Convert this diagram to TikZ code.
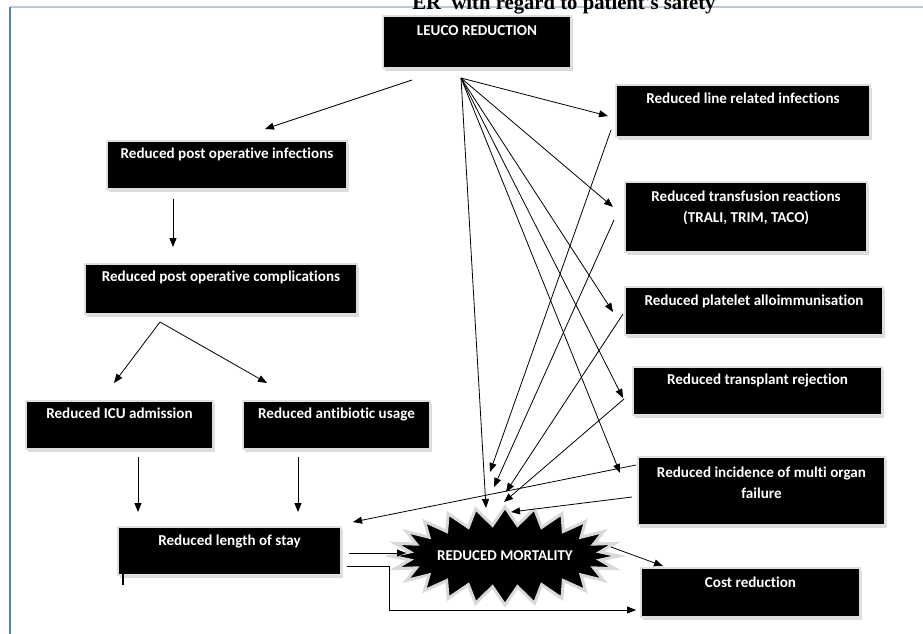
\documentclass[tikz,border=0pt]{standalone}
\usepackage{fontspec}
\setmainfont{Carlito}[Ligatures=NoCommon]
\newfontfamily\titlefont{Liberation Serif}
\usetikzlibrary{shapes.symbols,shadows,arrows.meta}
\definecolor{leftblue}{RGB}{88,124,176}
\definecolor{topgrey}{RGB}{185,200,215}
\begin{document}
\begin{tikzpicture}[x=1pt,y=-1pt,
  box/.style={fill=black, draw=gray!25, line width=2.5pt,
    drop shadow={shadow xshift=1.5pt,shadow yshift=-2.5pt,fill=gray!55},
    inner sep=0pt},
  btext/.style={text=white, font=\fontsize{15.1}{21}\selectfont\bfseries,
    align=center, text height=10pt, text depth=3pt, inner sep=0pt},
  btexttwo/.style={text=white, font=\fontsize{15.1}{21}\selectfont\bfseries,
    align=center, inner sep=0pt},
  arr/.style={-{Triangle[length=9pt,width=7pt]}, line width=0.8pt},
  ln/.style={line width=0.8pt}]
\useasboundingbox (0,0) rectangle (923,634);
\clip (0,0) rectangle (923,634);

% frame lines
\draw[topgrey, line width=1.2pt] (10,7) -- (923,7);
\draw[leftblue, line width=2.5pt] (10,7) -- (10,634);

% title (cut off at top)
\node[font=\titlefont\fontsize{20.7}{22}\selectfont\bfseries, anchor=base, inner sep=0pt]
  (title) at (564,9.5) {ER\ \ with regard to patient's safety};

% boxes
\node[box, minimum width=188pt, minimum height=52pt] (leuco) at (477,42) {};
\node[btext] (leucoT) at (477,32) {LEUCO REDUCTION};

\node[box, minimum width=240pt, minimum height=48pt] (inf) at (227,165) {};
\node[btext] (infT) at (227,155) {Reduced post operative infections};

\node[box, minimum width=272pt, minimum height=50pt] (comp) at (221,289) {};
\node[btext] (compT) at (221,278) {Reduced post operative complications};

\node[box, minimum width=187pt, minimum height=48pt] (icu) at (119.5,425) {};
\node[btext] (icuT) at (119.5,415) {Reduced ICU admission};

\node[box, minimum width=187pt, minimum height=48pt] (abx) at (336.5,425) {};
\node[btext] (abxT) at (336.5,415) {Reduced antibiotic usage};

\node[box, minimum width=223pt, minimum height=48pt] (stay) at (229.5,551) {};
\node[btext] (stayT) at (229.5,542) {Reduced length of stay};

\node[box, minimum width=219pt, minimum height=49pt] (cost) at (750.5,592.5) {};
\node[btext] (costT) at (750.5,584) {Cost reduction};

\node[box, minimum width=254pt, minimum height=52pt] (line) at (743,111) {};
\node[btext] (lineT) at (743,100) {Reduced line related infections};

\node[box, minimum width=242pt, minimum height=70pt] (trans) at (746,217) {};
\node[btexttwo] (transT) at (746,207.5) {Reduced transfusion reactions\\(TRALI, TRIM, TACO)};

\node[box, minimum width=258pt, minimum height=48pt] (plat) at (754,311) {};
\node[btext] (platT) at (754,302) {Reduced platelet alloimmunisation};

\node[box, minimum width=249pt, minimum height=48pt] (tx) at (757.5,391) {};
\node[btext] (txT) at (757.5,381) {Reduced transplant rejection};

\node[box, minimum width=247pt, minimum height=68pt] (mof) at (761.5,491) {};
\node[btexttwo] (mofT) at (761.5,482.5) {Reduced incidence of multi organ\\failure};

% starburst
\node[starburst, starburst points=24, starburst point height=18pt, random starburst=0,
  fill=black, draw=gray!30, line width=3pt, minimum width=215pt, minimum height=98pt,
  inner sep=0pt, text=white, font=\fontsize{15}{17}\selectfont\bfseries] (mort) at (505,556) {REDUCED MORTALITY};

% cursor mark
\draw[line width=2pt] (123,566) -- (123,585);

% connector end points
\coordinate (src) at (461,78);
\coordinate (a1s) at (412,80);   \coordinate (a1e) at (265,129);
\coordinate (a2s) at (173,199);  \coordinate (a2e) at (173,247);
\coordinate (a3s) at (160,322);  \coordinate (a3e) at (114,383); \coordinate (a4e) at (267,383);
\coordinate (a5s) at (138,457);  \coordinate (a5e) at (138,512);
\coordinate (a6s) at (298,457);  \coordinate (a6e) at (298,512);
\coordinate (a7s) at (349,553);  \coordinate (a7e) at (406,553);
\coordinate (a8s) at (347,566);  \coordinate (a8m) at (389,566); \coordinate (a8e) at (636,610);
\coordinate (a9s) at (611,547);  \coordinate (a9e) at (663,566);
\coordinate (s1e) at (608,116);
\coordinate (s2e) at (613,207);
\coordinate (s3e) at (613,312);
\coordinate (s4e) at (623,398);
\coordinate (s5e) at (620,473);
\coordinate (s6e) at (486,508);
\coordinate (r1s) at (611,130);  \coordinate (r1e) at (490,472);
\coordinate (r2s) at (614,220);  \coordinate (r2e) at (494,487);
\coordinate (r3s) at (623,314);  \coordinate (r3e) at (506,492);
\coordinate (r4s) at (624,399);  \coordinate (r4e) at (504,502);
\coordinate (r5s) at (632,497);  \coordinate (r5e) at (511,512);
\coordinate (r6s) at (636,465);  \coordinate (r6e) at (353,522);

% connectors
\draw[arr] (a1s) -- (a1e);
\draw[arr] (a2s) -- (a2e);
\draw[arr] (a3s) -- (a3e);
\draw[arr] (a3s) -- (a4e);
\draw[arr] (a5s) -- (a5e);
\draw[arr] (a6s) -- (a6e);
\draw[arr] (a7s) -- (a7e);
\draw[arr] (a8s) -- (a8m) |- (a8e);
\draw[arr] (a9s) -- (a9e);
\foreach \e in {s1e,s2e,s3e,s4e,s5e,s6e} \draw[arr] (src) -- (\e);
\draw[arr] (r1s) -- (r1e);
\draw[arr] (r2s) -- (r2e);
\draw[arr] (r3s) -- (r3e);
\draw[arr] (r4s) -- (r4e);
\draw[arr] (r5s) -- (r5e);
\draw[arr] (r6s) -- (r6e);
\end{tikzpicture}
\end{document}
